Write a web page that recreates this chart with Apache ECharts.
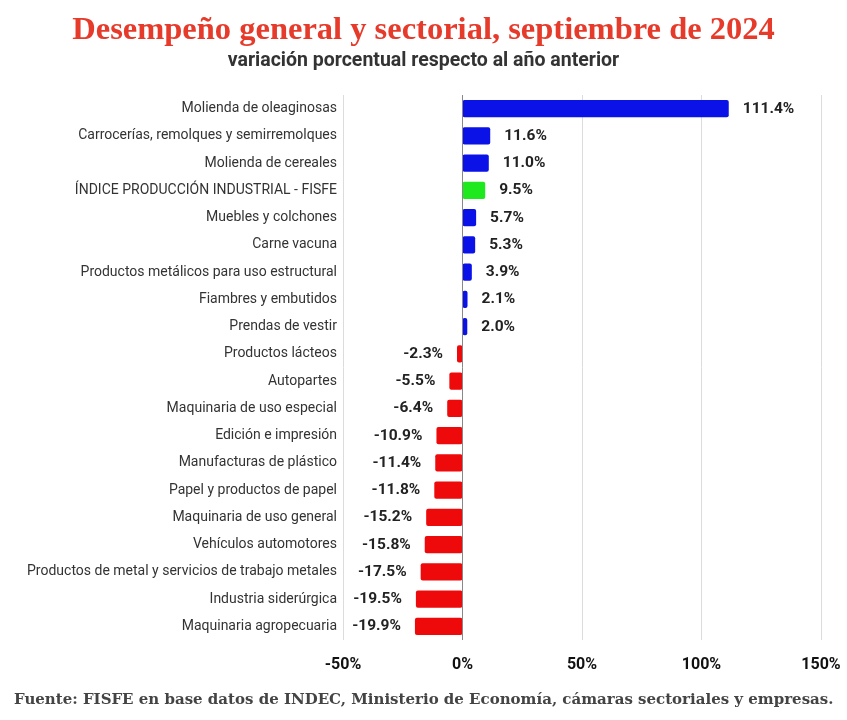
<!DOCTYPE html>
<html><head><meta charset="utf-8">
<script src="https://cdn.jsdelivr.net/npm/echarts@6/dist/echarts.min.js"></script>
<style>html,body{margin:0;padding:0;background:#fff}#c{width:847px;height:720px}</style>
</head><body><div id="c"></div>
<script>
const categories = [
  "Molienda de oleaginosas",
  "Carrocerías, remolques y semirremolques",
  "Molienda de cereales",
  "ÍNDICE PRODUCCIÓN INDUSTRIAL - FISFE",
  "Muebles y colchones",
  "Carne vacuna",
  "Productos metálicos para uso estructural",
  "Fiambres y embutidos",
  "Prendas de vestir",
  "Productos lácteos",
  "Autopartes",
  "Maquinaria de uso especial",
  "Edición e impresión",
  "Manufacturas de plástico",
  "Papel y productos de papel",
  "Maquinaria de uso general",
  "Vehículos automotores",
  "Productos de metal y servicios de trabajo metales",
  "Industria siderúrgica",
  "Maquinaria agropecuaria"
];
const values = [111.4, 11.6, 11.0, 9.5, 5.7, 5.3, 3.9, 2.1, 2.0, -2.3, -5.5, -6.4, -10.9, -11.4, -11.8, -15.2, -15.8, -17.5, -19.5, -19.9];
const highlightIndex = 3;
const xTicks = [-50, 0, 50, 100, 150];

const narrow = "'Roboto', sans-serif";
const chart = echarts.init(document.getElementById('c'));
chart.setOption({
  backgroundColor: '#fff',
  animation: false,
  title: [
    { text: 'Desempeño general y sectorial, septiembre de 2024', left: 'center', top: 9,
      textStyle: { fontFamily: "'Liberation Serif', serif", fontWeight: 'bold', fontSize: 32.5, color: '#e63a2b' } },
    { text: 'variación porcentual respecto al año anterior', left: 'center', top: 46,
      textStyle: { fontFamily: narrow, fontWeight: 'bold', fontSize: 19.5, color: '#333' } },
    { text: 'Fuente: FISFE en base datos de INDEC, Ministerio de Economía, cámaras sectoriales y empresas.', left: 9, top: 688,
      textStyle: { fontFamily: "'DejaVu Serif', serif", fontWeight: 'bold', fontSize: 15, color: '#444' } }
  ],
  grid: { left: 343, right: 26, top: 95, bottom: 80, containLabel: false },
  xAxis: {
    type: 'value', min: xTicks[0], max: xTicks[xTicks.length - 1], interval: 50,
    axisLine: { show: false }, axisTick: { show: false },
    splitLine: { show: true, lineStyle: { color: '#dcdcdc', width: 1 } },
    axisLabel: { formatter: v => v + '%', fontFamily: narrow, fontWeight: 'bold', fontSize: 16, color: '#111', margin: 17 }
  },
  yAxis: {
    type: 'category', data: categories, inverse: true,
    axisLine: { show: false }, axisTick: { show: false },
    axisLabel: { fontFamily: narrow, fontSize: 14, color: '#333', margin: 6 }
  },
  series: [{
    type: 'bar',
    data: values.map((v, i) => ({
      value: v,
      itemStyle: { color: i === highlightIndex ? '#1ee81e' : (v >= 0 ? '#0a12e8' : '#ee0a0a') },
      label: { position: v >= 0 ? 'right' : 'left' }
    })),
    barWidth: '64%',
    itemStyle: { borderRadius: 2 },
    label: { show: true, distance: 14, formatter: p => p.value.toFixed(1) + '%',
      fontFamily: narrow, fontWeight: 'bold', fontSize: 15.5, color: '#222' },
    markLine: { silent: true, symbol: 'none', label: { show: false },
      lineStyle: { color: '#888', width: 1, type: 'solid' },
      data: [{ xAxis: 0 }] }
  }]
});
</script></body></html>
